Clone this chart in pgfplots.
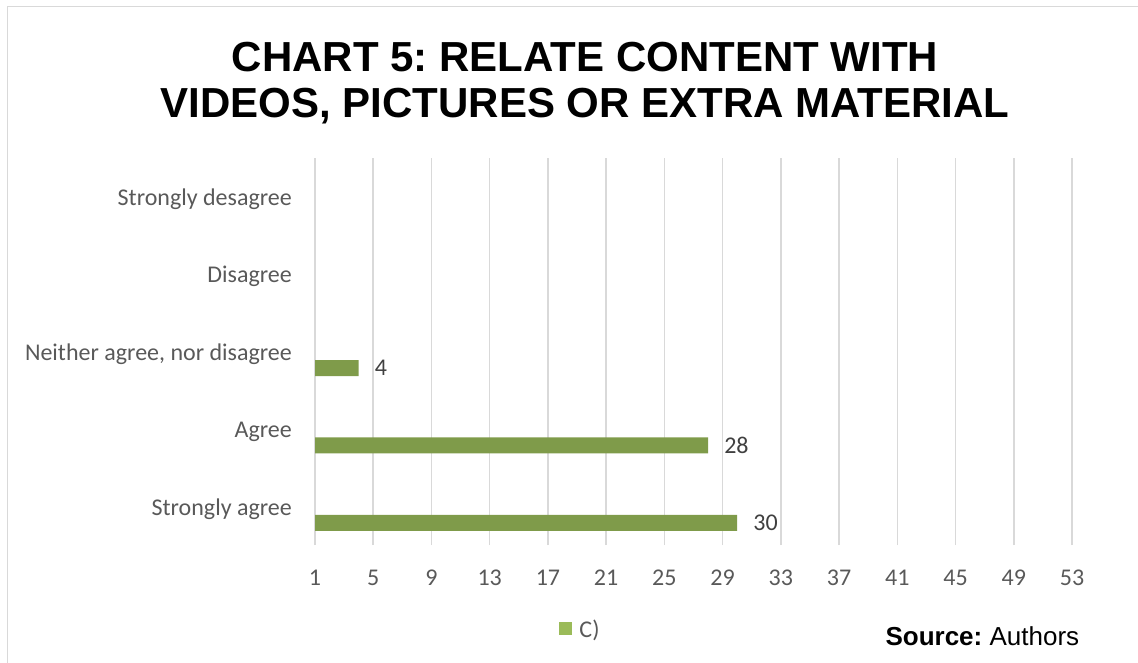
\documentclass[border=0pt]{standalone}
\usepackage{pgfplots}
\pgfplotsset{compat=1.18}
\usepackage{fontspec}
\setmainfont{Liberation Sans}
\newfontfamily\carlito{Carlito}
\definecolor{gridgray}{HTML}{D9D9D9}
\definecolor{ticklab}{HTML}{595959}
\definecolor{datalab}{HTML}{404040}
\definecolor{barcol}{HTML}{7F9B4A}
\definecolor{legcol}{HTML}{9BBB59}
\frenchspacing
\begin{document}
\begin{tikzpicture}
\path[use as bounding box] (0pt,0pt) rectangle (1138pt,-663pt);
\draw[gridgray, line width=1.5pt] (7.5pt,-663pt) -- (7.5pt,-6.5pt) -- (1138pt,-6.5pt);
\node[anchor=base, font=\bfseries\fontsize{42}{46}\selectfont] at (585pt,-72pt) {CHART 5: RELATE CONTENT WITH};
\node[anchor=base, font=\bfseries\fontsize{42}{46}\selectfont] at (585pt,-118pt) {VIDEOS, PICTURES OR EXTRA MATERIAL};
\begin{axis}[
  at={(315pt,-545pt)}, anchor=south west,
  scale only axis, width=757pt, height=387pt,
  xbar, bar width=16pt, bar shift=-16.5pt,
  xmin=1, xmax=53, ymin=-0.5, ymax=4.5,
  xtick={1,5,...,53}, ytick={0,1,2,3,4},
  yticklabels={{Strongly agree},{Agree},{Neither agree, nor disagree},{Disagree},{Strongly desagree}},
  axis line style={draw=none},
  major tick length=0pt,
  xmajorgrids, ymajorgrids=false,
  grid style={draw=gridgray, line width=1.5pt},
  /pgf/number format/assume math mode=true,
  tick label style={font=\carlito\fontsize{24}{28}\selectfont, text=ticklab, inner sep=0pt},
  xticklabel style={anchor=center, yshift=-33pt},
  yticklabel style={anchor=east, xshift=-23pt, yshift=-2.5pt},
  nodes near coords,
  every node near coord/.append style={anchor=west, inner sep=0pt, xshift=16pt, font=\carlito\fontsize{24}{28}\selectfont, text=datalab},
  legend style={at={(0.3494,-0.217)}, anchor=center, draw=none, fill=none, inner sep=0pt,
    font=\carlito\fontsize{24}{28}\selectfont, text=ticklab, nodes={inner sep=0pt}},
  legend image code/.code={\fill[legcol] (0pt,-6.5pt) rectangle (13pt,6.5pt); \path (20pt,0pt);},
]
\addplot[fill=barcol, draw=none] coordinates {(30,0) (28,1) (4,2)};
\legend{C)}
\end{axis}
\node[anchor=base west, font=\fontsize{26}{30}\selectfont] at (882pt,-645pt) {\textbf{Source:} Authors};
\end{tikzpicture}
\end{document}
